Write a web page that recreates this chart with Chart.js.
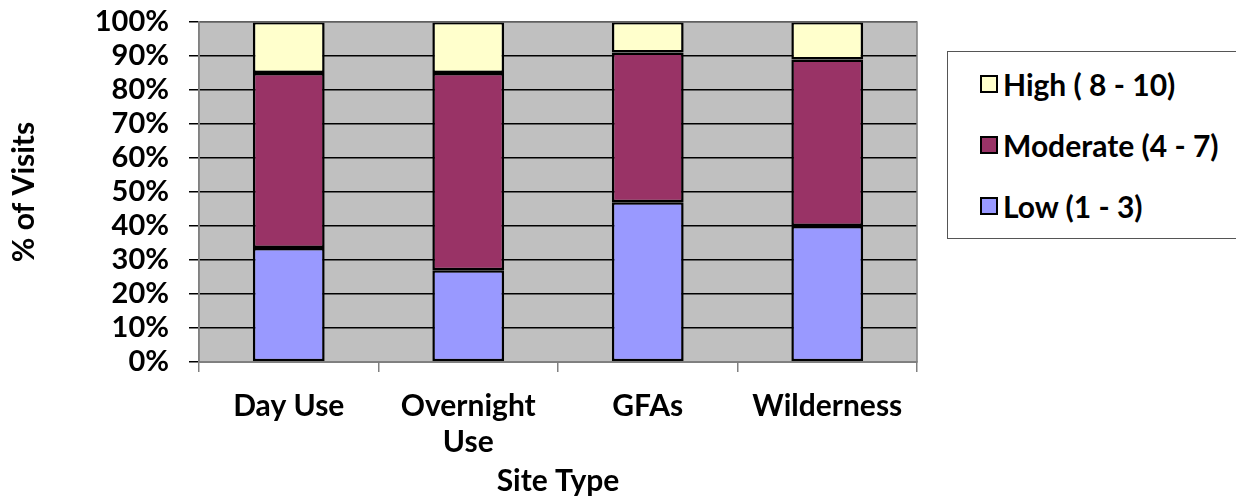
<!DOCTYPE html>
<html>
<head>
<meta charset="utf-8">
<script src="https://cdn.jsdelivr.net/npm/chart.js@4"></script>
<style>
  html, body { margin: 0; padding: 0; background: #fff; }
  #wrap { position: relative; width: 1236px; height: 501px; }
  #legend {
    position: absolute; left: 947px; top: 51px; width: 300px; height: 188px;
    border: 1.5px solid #555; box-sizing: border-box; background: #fff;
    font-family: Lato, sans-serif; font-weight: bold; font-size: 30px; color: #000;
  }
  .item { position: absolute; left: 32px; display: flex; align-items: center; }
  .box { width: 14px; height: 14px; border: 2px solid #000; margin-right: 5px; }
</style>
</head>
<body>
<div id="wrap">
  <canvas id="chart" width="1236" height="501"></canvas>
  <div id="legend"></div>
</div>
<script>
// data
const siteTypes = [["Day Use"], ["Overnight", "Use"], ["GFAs"], ["Wilderness"]];
const lowShare = [33.5, 27, 47, 40];
const moderateShare = [51.5, 58, 44, 49];
const highShare = [15, 15, 9, 11];
const seriesNames = ["Low (1 - 3)", "Moderate (4 - 7)", "High ( 8 - 10)"];
const seriesColors = ["#9999FF", "#993366", "#FFFFCC"];

const font = { family: "Lato, sans-serif", weight: "bold", size: 30 };
const tickFont = { family: "Lato, sans-serif", weight: "bold", size: 29 };

// grey plot area + border
const plotBg = {
  id: "plotBg",
  beforeDraw(chart) {
    const a = chart.chartArea, ctx = chart.ctx;
    ctx.save();
    ctx.fillStyle = "#C0C0C0";
    ctx.fillRect(a.left, a.top, a.right - a.left, a.bottom - a.top);
    ctx.restore();
  },
  afterDraw(chart) {
    const a = chart.chartArea, ctx = chart.ctx;
    ctx.save();
    ctx.strokeStyle = "#808080";
    ctx.lineWidth = 1.5;
    ctx.strokeRect(a.left, a.top, a.right - a.left, a.bottom - a.top);
    ctx.restore();
  }
};

const data = [lowShare, moderateShare, highShare];
new Chart(document.getElementById("chart"), {
  type: "bar",
  data: {
    labels: siteTypes,
    datasets: data.map((vals, i) => ({
      label: seriesNames[i],
      data: vals,
      backgroundColor: seriesColors[i],
      borderColor: "#000",
      borderWidth: 2.5,
      borderSkipped: false,
      barPercentage: 0.4,
      categoryPercentage: 1
    }))
  },
  options: {
    responsive: false,
    animation: false,
    layout: { padding: { top: 22, right: 319, left: 0, bottom: 0 } },
    plugins: { legend: { display: false }, tooltip: { enabled: false } },
    scales: {
      x: {
        stacked: true,
        afterFit(s) { s.height = 139; s.paddingLeft = 0; s.paddingRight = 0; },
        grid: { drawOnChartArea: false, drawTicks: true, tickLength: 10, color: "#808080", lineWidth: 1.5 },
        border: { color: "#808080", width: 1.5 },
        ticks: { color: "#000", font: { ...font, lineHeight: 1.2 }, padding: 16, maxRotation: 0 },
        title: { display: true, text: "Site Type", color: "#000", font: font, padding: { top: 0, bottom: 2 } }
      },
      y: {
        stacked: true,
        min: 0, max: 100,
        afterFit(s) { s.width = 199; s.paddingTop = 0; s.paddingBottom = 0; },
        grid: { color: "#000", lineWidth: 1.5, tickLength: 10, tickColor: "#000" },
        border: { color: "#808080", width: 1.5 },
        ticks: { stepSize: 10, autoSkip: false, color: "#000", font: tickFont, padding: 20, callback: v => v + "%" },
        title: { display: true, text: "% of Visits", color: "#000", font: font, padding: { top: 6, bottom: 0 } }
      }
    }
  },
  plugins: [plotBg]
});

// legend, top entry first like the picture
const legend = document.getElementById("legend");
[2, 1, 0].forEach((k, row) => {
  const it = document.createElement("div");
  it.className = "item";
  it.style.top = (14 + row * 61) + "px";
  const b = document.createElement("span");
  b.className = "box";
  b.style.background = seriesColors[k];
  const t = document.createElement("span");
  t.textContent = seriesNames[k];
  it.appendChild(b);
  it.appendChild(t);
  legend.appendChild(it);
});
</script>
</body>
</html>
